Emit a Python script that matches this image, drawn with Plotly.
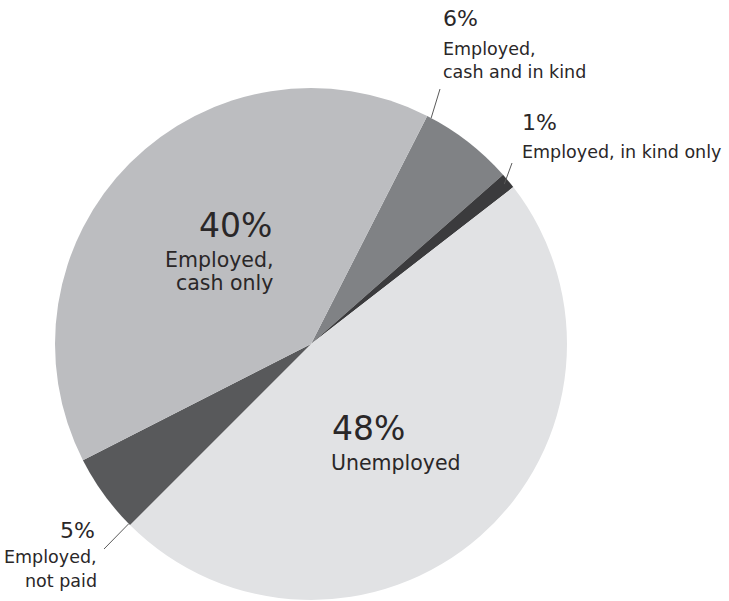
import math
import plotly.graph_objects as go

# Shares of respondents by employment status (percent), in drawing order (clockwise)
labels = ["Employed, cash and in kind", "Employed, in kind only", "Unemployed",
          "Employed, not paid", "Employed, cash only"]
values = [6, 1, 48, 5, 40]
colors = ["#808285", "#3b3b3d", "#e1e2e4", "#58595b", "#bcbdc0"]
pct_text = ["6%", "1%", "48%", "5%", "40%"]
name_lines = [["Employed,", "cash and in kind"], ["Employed, in kind only"], ["Unemployed"],
              ["Employed,", "not paid"], ["Employed,", "cash only"]]

W, H = 729, 601
CX, CY, R = 311, 344, 256          # pie centre and radius in pixels
ROTATION = 27                      # start angle of first slice, clockwise from 12 o'clock
INK = "#2a2728"
FONT = "DejaVu Sans"
MID = 0.346                        # baseline-to-box-centre offset, in em


def px(x, y):
    """pixel -> paper coordinates"""
    return x / W, 1 - y / H


def on_pie(angle_deg, frac=1.0):
    a = math.radians(angle_deg)
    return px(CX + frac * R * math.sin(a), CY - frac * R * math.cos(a))


# cumulative slice angles
total = sum(values)
starts, acc = [], ROTATION
for v in values:
    starts.append(acc)
    acc += 360 * v / total
mids = [s + 180 * v / total for s, v in zip(starts, values)]

fig = go.Figure(go.Pie(
    labels=labels, values=values, sort=False, direction="clockwise",
    rotation=ROTATION, marker=dict(colors=colors, line=dict(width=0)),
    textinfo="none", hoverinfo="label+percent", showlegend=False,
    domain=dict(x=[(CX - R) / W, (CX + R) / W], y=[1 - (CY + R) / H, 1 - (CY - R) / H]),
))

annotations = []


def note(text, x, baseline, size, xanchor):
    ax, ay = px(x, baseline - MID * size)
    annotations.append(dict(text=text, x=ax, y=ay, xref="paper", yref="paper",
                            xanchor=xanchor, yanchor="middle", showarrow=False,
                            font=dict(family=FONT, size=size, color=INK)))


def block(i, x, pct_base, line_bases, pct_size, line_size, xanchor, dx=0):
    note(pct_text[i], x, pct_base, pct_size, xanchor)
    for line, b in zip(name_lines[i], line_bases):
        note(line, x + dx, b, line_size, xanchor)


# outside labels
block(0, 441, 26, [55, 78], 22, 17.5, "left")
block(1, 520, 130, [158], 22, 17.5, "left")
block(3, 97, 538, [563, 587], 22, 17.5, "right", dx=2)
# inside labels
block(4, 274, 237, [267, 290], 33, 20.5, "right", dx=1)
block(2, 330, 440, [470], 33, 20.5, "left", dx=-1)

# leader lines from labels to slices
shapes = []


def leader(x0, y0, end):
    a, b = px(x0, y0)
    shapes.append(dict(type="line", xref="paper", yref="paper", x0=a, y0=b,
                       x1=end[0], y1=end[1], line=dict(color="#5a5a5a", width=1)))


leader(440, 89, on_pie(starts[0] + 1.0))
leader(512, 163, on_pie(mids[1], 0.98))
leader(104, 549, on_pie(starts[3] + 0.4))

fig.update_layout(width=W, height=H, margin=dict(l=0, r=0, t=0, b=0),
                  paper_bgcolor="white", plot_bgcolor="white",
                  annotations=annotations, shapes=shapes)

fig.write_html("out.html")
